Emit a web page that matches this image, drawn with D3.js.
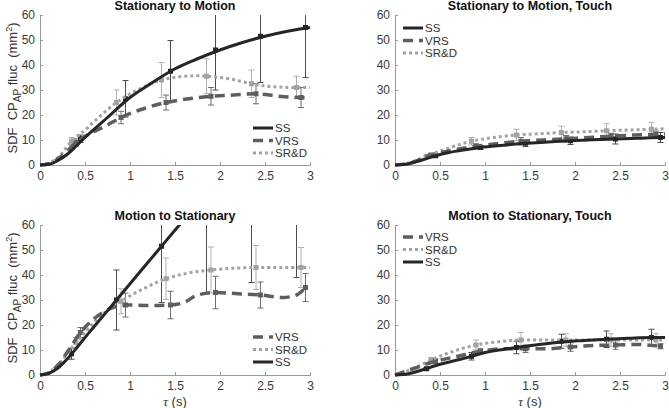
<!DOCTYPE html>
<html>
<head>
<meta charset="utf-8">
<script src="https://cdn.jsdelivr.net/npm/d3@7"></script>
<style>
  body { margin: 0; background: #fff; }
  text { font-family: "Liberation Sans", Arial, sans-serif; }
</style>
</head>
<body>
<div id="chart"></div>
<script>
// tick labels
var tauTicks = [0, 0.5, 1, 1.5, 2, 2.5, 3];
var valTicks = [0, 10, 20, 30, 40, 50, 60];

// ---- Stationary to Motion ----  curves [tau, value]
var smSS = [[0,0],[0.1,0.3],[0.2,1.8],[0.3,4.2],[0.4,7.5],[0.5,11],[0.75,19],[1,27],[1.25,33],[1.5,38.5],[1.75,42.5],[2,46],[2.25,49],[2.5,51.5],[2.75,53.5],[3,55]];
var smVRS = [[0,0],[0.1,0.5],[0.2,2.5],[0.3,5.5],[0.4,9],[0.5,11.5],[0.75,16],[0.9,19],[1.15,22.5],[1.4,25],[1.65,26.5],[1.9,27.5],[2.15,28],[2.4,28.5],[2.65,27.5],[2.9,27],[3,27]];
var smSRD = [[0,0],[0.1,0.8],[0.2,3],[0.35,9.5],[0.5,14],[0.65,19],[0.85,25],[1,28.5],[1.2,32],[1.35,34],[1.55,35.3],[1.75,35.7],[1.85,35.5],[2.1,34.5],[2.35,32.5],[2.6,31.3],[2.85,31],[3,31]];
// error bars [tau, mean, halfwidth]
var smSSbars = [[0.45,10.5,1.5],[0.95,26.5,7.3],[1.45,37.5,12.3],[1.95,46,16],[2.45,51.5,18.5],[2.95,55,20]];
var smVRSbars = [[0.4,9,1.5],[0.9,19,2.5],[1.4,25,3],[1.9,27.5,3.5],[2.4,28.5,4],[2.9,27,4]];
var smSRDbars = [[0.35,9.5,1.5],[0.85,25,5],[1.35,34,7],[1.85,35.5,7],[2.35,32.5,5.5],[2.85,31,4.5]];

// ---- Stationary to Motion, Touch ----
var smtSS = [[0,0],[0.15,0.5],[0.3,2],[0.45,3.7],[0.6,5],[0.8,6.2],[0.95,7],[1.2,7.9],[1.45,8.7],[1.7,9.2],[1.95,9.7],[2.2,10.1],[2.45,10.4],[2.7,10.7],[2.95,11],[3,11]];
var smtVRS = [[0,0],[0.15,0.6],[0.4,4],[0.65,6],[0.9,7.5],[1.15,8.6],[1.4,9.5],[1.65,10],[1.9,10.5],[2.15,11],[2.4,11.5],[2.65,12],[2.9,12.3],[3,12.4]];
var smtSRD = [[0,0],[0.15,0.8],[0.35,3.5],[0.6,6.8],[0.85,9.5],[1.1,11],[1.35,12],[1.6,12.5],[1.85,13],[2.1,13.3],[2.35,13.7],[2.6,14],[2.85,14.3],[3,14.5]];
var smtSSbars = [[0.45,3.7,0.5],[0.95,7,0.8],[1.45,8.7,1.3],[1.95,9.7,1.5],[2.45,10.4,2],[2.95,11,2]];
var smtVRSbars = [[0.4,4,0.5],[0.9,7.5,1],[1.4,9.5,1.5],[1.9,10.5,1.3],[2.4,11.5,1.2],[2.9,12.3,1.3]];
var smtSRDbars = [[0.35,3.5,0.5],[0.85,9.5,1.5],[1.35,12,2.3],[1.85,13,2.5],[2.35,13.7,2.8],[2.85,14.3,2.8]];

// ---- Motion to Stationary ----
var msSS = [[0,0],[0.1,0.7],[0.2,2.8],[0.3,6.3],[0.4,10.5],[0.5,15],[0.6,19.3],[0.85,30],[1.1,40.8],[1.35,51.5],[1.55,60],[1.6,62]];
var msVRS = [[0,0],[0.1,0.8],[0.2,4],[0.3,9],[0.45,17],[0.6,22.5],[0.75,26],[0.95,28],[1.2,27.8],[1.45,28],[1.6,29],[1.75,32],[1.95,33],[2.2,32.5],[2.45,32],[2.7,31],[2.85,32],[2.95,35]];
var msSRD = [[0,0],[0.1,1],[0.2,4],[0.4,13],[0.55,19],[0.7,24.5],[0.9,29.5],[1.15,34.5],[1.4,38.5],[1.65,40.8],[1.9,42],[2.15,42.7],[2.4,43],[2.65,43],[2.9,43],[3,43]];
var msSSbars = [[0.35,8.5,2.2],[0.85,30,12],[1.35,51.5,22.5],[1.85,73,40],[2.35,94,57],[2.85,116,77]];
var msVRSbars = [[0.45,17,2],[0.95,28,4.8],[1.45,28,5.5],[1.95,33,6.5],[2.45,32,5.2],[2.95,35,5.6]];
var msSRDbars = [[0.4,13,2],[0.9,29.5,5],[1.4,38.5,8.3],[1.9,42,9.2],[2.4,43,8.8],[2.9,43,8]];

// ---- Motion to Stationary, Touch ----
var mstSS = [[0,0],[0.15,0.5],[0.3,2],[0.5,4.3],[0.75,6.5],[0.85,7.5],[1,9],[1.25,10.5],[1.35,11],[1.6,12.2],[1.85,13.2],[2.1,13.8],[2.35,14.3],[2.6,14.7],[2.85,15],[3,15]];
var mstVRS = [[0,0],[0.2,2.5],[0.45,5.5],[0.7,7.5],[0.95,9.5],[1.2,10.5],[1.45,10.5],[1.7,10.5],[1.95,11.2],[2.2,11.8],[2.45,12],[2.7,12.2],[2.95,11.5]];
var mstSRD = [[0,0],[0.2,2.5],[0.4,6],[0.65,9.5],[0.9,12],[1.15,13.3],[1.4,14],[1.65,14],[1.9,14],[2.15,14],[2.4,14],[2.65,14],[2.9,14],[3,14]];
var mstSSbars = [[0.35,2.5,0.5],[0.85,7.5,1.5],[1.35,11,2.5],[1.85,13.5,2.8],[2.35,14.3,3.3],[2.85,15,3.3]];
var mstVRSbars = [[0.45,5.5,1],[0.95,9.5,1],[1.45,10.5,1.5],[1.95,11.2,1.7],[2.45,12,1.7],[2.95,11.5,1]];
var mstSRDbars = [[0.4,6,1],[0.9,12,2],[1.4,14,3],[1.9,14,2.5],[2.4,14,2.5],[2.9,14,2.5]];

var styles = {
  SS:  { color: "#262626", bar: "#4d4d4d", width: 3, dash: null },
  VRS: { color: "#5e5e5e", bar: "#6e6e6e", width: 3.5, dash: "10,6" },
  "SR&D": { color: "#a3a3a3", bar: "#b0b0b0", width: 3, dash: "3,3" }
};

var W = 669, H = 408;
var svg = d3.select("#chart").append("svg")
  .attr("width", W).attr("height", H);

function panel(opts) {
  var x = d3.scaleLinear().domain([0, 3]).range([opts.x0, opts.x1]);
  var y = d3.scaleLinear().domain([0, 60]).range([opts.yb, opts.yt]);
  var g = svg.append("g");

  var clipId = "clip" + opts.id;
  svg.append("clipPath").attr("id", clipId)
    .append("rect")
    .attr("x", opts.x0 - 6).attr("y", opts.yt)
    .attr("width", opts.x1 - opts.x0 + 12).attr("height", opts.yb - opts.yt + 6);

  // axes (MATLAB style: ticks inward, box off)
  var xAxis = g.append("g").attr("transform", "translate(0," + opts.yb + ")")
    .call(d3.axisBottom(x).tickValues(tauTicks).tickSizeInner(-3).tickSizeOuter(-3).tickPadding(6)
      .tickFormat(d3.format("")));
  var yAxis = g.append("g").attr("transform", "translate(" + opts.x0 + ",0)")
    .call(d3.axisLeft(y).tickValues(valTicks).tickSizeInner(-3).tickSizeOuter(-3).tickPadding(5));
  [xAxis, yAxis].forEach(function(a) {
    a.select(".domain").attr("stroke", "#9a9a9a");
    a.selectAll(".tick line").attr("stroke", "#9a9a9a");
    a.selectAll("text").attr("fill", "#3a3a3a").attr("font-size", 12)
      .style("font-family", "Liberation Sans, Arial, sans-serif");
  });

  var plot = g.append("g").attr("clip-path", "url(#" + clipId + ")");
  var line = d3.line()
    .x(function(d) { return x(d[0]); })
    .y(function(d) { return y(d[1]); })
    .curve(d3.curveMonotoneX);

  opts.series.forEach(function(s) {
    var st = styles[s.name];
    var bars = plot.append("g");
    s.bars.forEach(function(b) {
      var bx = x(b[0]);
      var lo = y(b[1] - b[2]), hi = y(b[1] + b[2]);
      bars.append("line").attr("x1", bx).attr("x2", bx).attr("y1", lo).attr("y2", hi)
        .attr("stroke", st.bar).attr("stroke-width", 1);
      [lo, hi].forEach(function(yy) {
        bars.append("line").attr("x1", bx - 3).attr("x2", bx + 3).attr("y1", yy).attr("y2", yy)
          .attr("stroke", st.bar).attr("stroke-width", 1);
      });
      bars.append("rect").attr("x", bx - 2.5).attr("y", y(b[1]) - 2.5)
        .attr("width", 5).attr("height", 5).attr("fill", st.color);
    });
  });
  opts.series.forEach(function(s) {
    var st = styles[s.name];
    plot.append("path").datum(s.curve)
      .attr("d", line)
      .attr("fill", "none")
      .attr("stroke", st.color)
      .attr("stroke-width", st.width)
      .attr("stroke-dasharray", st.dash);
  });

  // title
  g.append("text")
    .attr("x", (opts.x0 + opts.x1) / 2).attr("y", opts.yt - 5)
    .attr("text-anchor", "middle")
    .attr("font-size", 12.5).attr("font-weight", "bold").attr("fill", "#111")
    .text(opts.title);

  // legend
  var lg = g.append("g");
  opts.legend.forEach(function(name, i) {
    var st = styles[name];
    var ly = opts.ly + i * 12.5;
    lg.append("line")
      .attr("x1", opts.lx).attr("x2", opts.lx + 20)
      .attr("y1", ly).attr("y2", ly)
      .attr("stroke", st.color).attr("stroke-width", st.width)
      .attr("stroke-dasharray", st.dash);
    lg.append("text").attr("x", opts.lx + 22).attr("y", ly + 4)
      .attr("font-size", 11.5).attr("fill", "#333").text(name);
  });

  // y label (left column only)
  if (opts.ylabel) {
    var t = g.append("text")
      .attr("transform", "translate(17," + ((opts.yt + opts.yb) / 2 - 2) + ") rotate(-90)")
      .attr("text-anchor", "middle").attr("font-size", 13).attr("fill", "#333")
      .style("white-space", "pre");
    t.append("tspan").text("SDF  CP");
    t.append("tspan").attr("font-size", 10).attr("dy", 4).text("AP");
    t.append("tspan").attr("dy", -4).text(" fluc  (mm");
    t.append("tspan").attr("font-size", 9).attr("dy", -5).text("2");
    t.append("tspan").attr("dy", 5).text(")");
  }
  // x label (bottom row only)
  if (opts.xlabel) {
    var xl = g.append("text")
      .attr("x", (opts.x0 + opts.x1) / 2).attr("y", opts.yb + 31)
      .attr("text-anchor", "middle").attr("font-size", 13).attr("fill", "#333");
    xl.append("tspan").attr("font-style", "italic").style("font-family", "Liberation Serif, serif").text("\u03c4");
    xl.append("tspan").text(" (s)");
  }
}

panel({ id: 1, title: "Stationary to Motion", x0: 40, x1: 310, yt: 15, yb: 165, ylabel: true,
  lx: 253, ly: 128, legend: ["SS", "VRS", "SR&D"],
  series: [
    { name: "SR&D", curve: smSRD, bars: smSRDbars },
    { name: "VRS", curve: smVRS, bars: smVRSbars },
    { name: "SS", curve: smSS, bars: smSSbars }
  ] });

panel({ id: 2, title: "Stationary to Motion, Touch", x0: 395, x1: 665, yt: 15, yb: 165,
  lx: 403, ly: 28, legend: ["SS", "VRS", "SR&D"],
  series: [
    { name: "SR&D", curve: smtSRD, bars: smtSRDbars },
    { name: "VRS", curve: smtVRS, bars: smtVRSbars },
    { name: "SS", curve: smtSS, bars: smtSSbars }
  ] });

panel({ id: 3, title: "Motion to Stationary", x0: 40, x1: 310, yt: 225, yb: 375, ylabel: true, xlabel: true,
  lx: 253, ly: 337, legend: ["VRS", "SR&D", "SS"],
  series: [
    { name: "SR&D", curve: msSRD, bars: msSRDbars },
    { name: "VRS", curve: msVRS, bars: msVRSbars },
    { name: "SS", curve: msSS, bars: msSSbars }
  ] });

panel({ id: 4, title: "Motion to Stationary, Touch", x0: 395, x1: 665, yt: 225, yb: 375, xlabel: true,
  lx: 403, ly: 237, legend: ["VRS", "SR&D", "SS"],
  series: [
    { name: "SR&D", curve: mstSRD, bars: mstSRDbars },
    { name: "VRS", curve: mstVRS, bars: mstVRSbars },
    { name: "SS", curve: mstSS, bars: mstSSbars }
  ] });
</script>
</body>
</html>
